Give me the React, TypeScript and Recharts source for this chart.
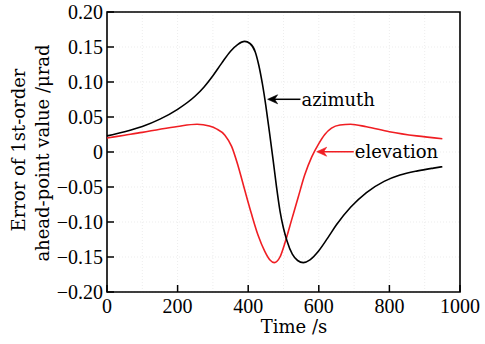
import React from "react";
import { LineChart, Line, XAxis, YAxis, CartesianGrid, ReferenceArea, ReferenceLine } from "recharts";

const azTimes = [0, 50, 100, 150, 200, 250, 275, 300, 325, 350, 370, 390, 405, 420, 430, 440, 450, 460, 470, 480, 490, 500, 510, 525, 540, 556, 575, 600, 625, 650, 690, 735, 785, 830, 880, 925, 950];
const azimuth = [0.023, 0.029, 0.0365, 0.047, 0.061, 0.08, 0.093, 0.109, 0.127, 0.144, 0.1535, 0.158, 0.155, 0.143, 0.124, 0.098, 0.066, 0.029, -0.009, -0.049, -0.084, -0.109, -0.127, -0.146, -0.155, -0.158, -0.154, -0.141, -0.123, -0.104, -0.079, -0.058, -0.042, -0.033, -0.027, -0.023, -0.021];

const elTimes = [0, 50, 100, 150, 200, 255, 290, 310, 334, 353, 372, 390, 409, 428, 447, 461, 474, 490, 504, 523, 542, 560, 580, 600, 617, 636, 660, 690, 735, 800, 877, 950];
const elevation = [0.02, 0.024, 0.028, 0.0325, 0.0365, 0.0396, 0.037, 0.033, 0.024, 0.008, -0.021, -0.054, -0.088, -0.119, -0.142, -0.154, -0.158, -0.15, -0.13, -0.097, -0.064, -0.033, -0.007, 0.012, 0.025, 0.034, 0.0385, 0.0396, 0.036, 0.029, 0.023, 0.019];

const xTicks = [0, 200, 400, 600, 800, 1000];
const yTicks = [-0.2, -0.15, -0.1, -0.05, 0, 0.05, 0.1, 0.15, 0.2];
const gridX = [100, 200, 300, 400, 500, 600, 700, 800, 900];

const azData = azTimes.map((t, i) => ({ t, azimuth: azimuth[i] }));
const elData = elTimes.map((t, i) => ({ t, elevation: elevation[i] }));

const WORD_FONT = "'DejaVu Serif', serif";
const NUM_FONT = "'Liberation Serif', serif";
const RED = "#f01e23";

const fmtY = (v: number) => (Math.abs(v) < 1e-9 ? "0" : v < 0 ? "\u2212" + Math.abs(v).toFixed(2) : v.toFixed(2));

const arrowShape = (color: string, text: string) => (props: any) => {
  const { x1, y1, x2 } = props;
  const tx = Math.min(x1, x2);
  const ex = Math.max(x1, x2);
  const y = y1;
  return (
    <g>
      <line x1={tx + 2} y1={y} x2={ex} y2={y} stroke={color} strokeWidth={1.5} />
      <path d={`M${tx},${y} L${tx + 10},${y - 4.5} L${tx + 7},${y} L${tx + 10},${y + 4.5} Z`} fill={color} stroke={color} strokeWidth={0.6} />
      <text x={ex + 1} y={y} dy="0.35em" fontFamily={WORD_FONT} fontSize={18} fill="#000">{text}</text>
    </g>
  );
};

const YLabel = () => (
  <g>
    <text transform="translate(25,150) rotate(-90)" textAnchor="middle" fontFamily={WORD_FONT} fontSize={18} fill="#000">Error of 1st-order</text>
    <text transform="translate(49,153) rotate(-90)" textAnchor="middle" fontFamily={WORD_FONT} fontSize={18} fill="#000">ahead-point value /μrad</text>
  </g>
);

const XLabel = () => (
  <text x={294} y={333} textAnchor="middle" fontFamily={WORD_FONT} fontSize={18} fill="#000">Time /s</text>
);

export default function App() {
  return (
    <div style={{ position: "absolute", left: 0, top: 0, background: "#fff" }}>
      <LineChart width={485} height={344} margin={{ top: 12, right: 25, left: 0, bottom: 0 }}>
        <CartesianGrid stroke="#ededed" strokeDasharray="1 2" verticalValues={gridX} horizontalValues={yTicks} />
        <XAxis
          dataKey="t"
          type="number"
          domain={[0, 1000]}
          ticks={xTicks}
          height={52}
          axisLine={false}
          tickSize={-7}
          tickMargin={14}
          tickLine={{ stroke: "#000", strokeWidth: 1.5 }}
          tick={{ fontFamily: NUM_FONT, fontSize: 20, fill: "#000" }}
          interval={0}
          allowDuplicatedCategory={false}
          label={{ content: () => <XLabel /> } as any}
        />
        <YAxis
          type="number"
          domain={[-0.2, 0.2]}
          ticks={yTicks}
          width={107}
          axisLine={false}
          tickSize={-7}
          tickMargin={11}
          tickLine={{ stroke: "#000", strokeWidth: 1.5 }}
          tick={{ fontFamily: NUM_FONT, fontSize: 20, fill: "#000" }}
          tickFormatter={fmtY}
          interval={0}
          label={{ content: () => <YLabel /> } as any}
        />
        <Line data={elData} type="monotone" dataKey="elevation" stroke={RED} strokeWidth={1.6} dot={false} isAnimationActive={false} />
        <Line data={azData} type="monotone" dataKey="azimuth" stroke="#000" strokeWidth={1.6} dot={false} isAnimationActive={false} />
        <ReferenceLine segment={[{ x: 455, y: 0.0753 }, { x: 548, y: 0.0753 }]} ifOverflow="visible" shape={arrowShape("#000", "azimuth")} />
        <ReferenceLine segment={[{ x: 594, y: 0.0004 }, { x: 699, y: 0.0004 }]} ifOverflow="visible" shape={arrowShape(RED, "elevation")} />
        <ReferenceArea x1={0} x2={1000} y1={-0.2} y2={0.2} fill="none" fillOpacity={0} stroke="#000" strokeWidth={1.6} ifOverflow="visible" />
      </LineChart>
    </div>
  );
}
